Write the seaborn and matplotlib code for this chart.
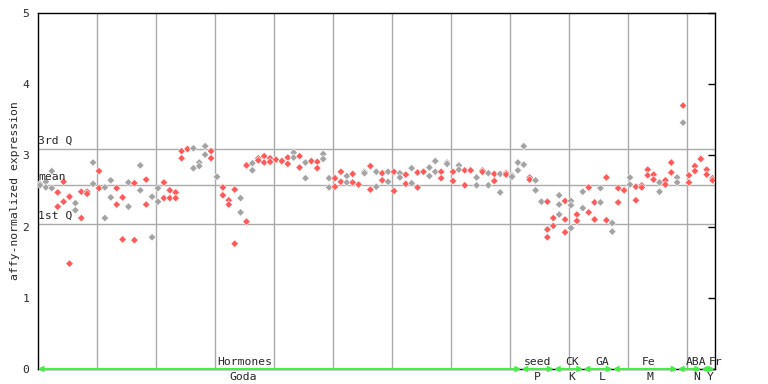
import numpy as np
import pandas as pd
import seaborn as sns
import matplotlib.pyplot as plt

# expression values per sample column (two replicates, a few columns have a third)
rep_a = [2.60, 2.63, 2.78, 2.48, 2.63, 2.42, 2.33, 2.49, 2.49, 2.90,
         2.78, 2.55, 2.65, 2.54, 2.41, 2.62, 2.61, 2.86, 2.66, 2.42,
         2.54, 2.62, 2.51, 2.48, 3.06, 3.09, 3.10, 2.90, 3.13, 3.06,
         2.70, 2.55, 2.37, 2.52, 2.40, 2.86, 2.89, 2.96, 2.99, 2.96,
         2.94, 2.92, 2.97, 3.04, 2.99, 2.90, 2.92, 2.91, 3.02, 2.68,
         2.68, 2.77, 2.71, 2.74, 2.59, 2.77, 2.85, 2.77, 2.75, 2.77,
         2.77, 2.75, 2.73, 2.82, 2.76, 2.77, 2.83, 2.92, 2.77, 2.90,
         2.77, 2.86, 2.79, 2.79, 2.69, 2.79, 2.75, 2.74, 2.74, 2.75,
         2.72, 2.90, 3.13, 2.69, 2.65, 2.35, 2.35, 2.12, 2.44, 2.36,
         2.36, 2.17, 2.49, 2.55, 2.34, 2.54, 2.69, 2.05, 2.54, 2.51,
         2.69, 2.56, 2.58, 2.80, 2.73, 2.62, 2.65, 2.90, 2.69, 3.70,
         2.72, 2.85, 2.95, 2.80, 2.68]
rep_b = [2.58, 2.55, 2.54, 2.28, 2.35, 1.48, 2.23, 2.12, 2.46, 2.60,
         2.54, 2.12, 2.41, 2.31, 1.82, 2.28, 1.81, 2.51, 2.31, 1.85,
         2.35, 2.40, 2.40, 2.40, 2.96, 3.09, 2.82, 2.85, 3.01, 2.96,
         2.70, 2.44, 2.31, 1.76, 2.20, 2.07, 2.79, 2.93, 2.90, 2.91,
         2.94, 2.92, 2.88, 2.97, 2.83, 2.68, 2.92, 2.82, 2.95, 2.55,
         2.56, 2.63, 2.62, 2.62, 2.59, 2.75, 2.52, 2.56, 2.65, 2.63,
         2.50, 2.69, 2.60, 2.61, 2.55, 2.77, 2.71, 2.77, 2.68, 2.88,
         2.64, 2.80, 2.58, 2.79, 2.58, 2.77, 2.58, 2.64, 2.48, 2.73,
         2.70, 2.79, 2.87, 2.66, 2.51, 2.35, 1.96, 2.01, 2.31, 2.10,
         2.30, 2.08, 2.26, 2.20, 2.10, 2.34, 2.09, 1.93, 2.34, 2.51,
         2.59, 2.37, 2.55, 2.72, 2.66, 2.49, 2.59, 2.76, 2.62, 3.46,
         2.62, 2.78, 2.95, 2.73, 2.65]
rep_c = {86: 1.85, 88: 2.17, 89: 1.92, 90: 1.98}

# columns drawn in grey (the rest are red)
grey_cols = [0, 1, 2, 6, 9, 11, 12, 15, 17, 19, 20, 26, 27, 28, 30, 34, 36,
             43, 45, 48, 49, 52, 55, 57, 59, 61, 63, 66, 67, 69, 71, 74, 76,
             78, 80, 81, 82, 84, 85, 88, 90, 92, 95, 97, 100, 105, 108]
grey_b_extra = [109]

q1, q_mean, q3 = 2.04, 2.585, 3.09

# experiment groups along the bottom
grp_top = ['Hormones', 'seed', 'CK', 'GA', 'Fe', 'ABA', 'Fr']
grp_bottom = ['Goda', 'P', 'K', 'L', 'M', 'N', 'Y']
grp_start = [0, 82, 87.5, 92.5, 97.5, 108.5, 112.5]
grp_end = [82, 87.5, 92.5, 97.5, 108.5, 112.5, 114.8]
grp_top_x = [35.1, 84.7, 90.6, 95.7, 103.5, 111.6, 115.0]
grp_bot_x = [34.8, 84.7, 90.6, 95.7, 103.8, 111.8, 114.0]

n = len(rep_a)
rows = []
for i in range(n):
    x = i + 0.42
    rows.append((x, rep_a[i], 'grey' if i in grey_cols else 'red'))
    rows.append((x, rep_b[i], 'grey' if (i in grey_cols or i in grey_b_extra) else 'red'))
    if i in rep_c:
        rows.append((x, rep_c[i], 'grey' if i in grey_cols else 'red'))
df = pd.DataFrame(rows, columns=['sample', 'expression', 'colour'])

sns.set_style('white')
plt.rcParams['font.family'] = ['DejaVu Sans Mono']
fs = 8.2

fig = plt.figure(figsize=(7.68, 3.84), dpi=100)
ax = fig.add_axes([37.5 / 768, 15 / 384, 677.5 / 768, 356 / 384])

for x in range(10, 115, 10):
    ax.axvline(x, color='#aaaaaa', lw=1, zorder=1)
for y in (q1, q_mean, q3):
    ax.axhline(y, color='#aaaaaa', lw=1, zorder=1)

sns.scatterplot(data=df, x='sample', y='expression', hue='colour',
                palette={'red': '#ff5a5a', 'grey': '#a3a3a3'},
                marker='D', s=15, linewidth=0.4, edgecolor='white',
                legend=False, ax=ax, zorder=3)

ax.set_xlim(0, 114.83)
ax.set_ylim(0, 5)
ax.set_yticks([0, 1, 2, 3, 4, 5])
ax.set_xticks([])
ax.set_xlabel('')
ax.set_ylabel('affy-normalized expression', fontsize=fs, labelpad=2)
ax.tick_params(axis='y', direction='in', length=5, width=1, right=True,
               labelsize=fs, pad=6, color='black')
for sp in ax.spines.values():
    sp.set_color('black')
    sp.set_linewidth(1)

for y, lab in ((q3, '3rd Q'), (q_mean, 'mean'), (q1, '1st Q')):
    ax.text(0.1, y + 0.04, lab, fontsize=fs, va='bottom', ha='left', zorder=4)

green = '#44ee44'
for s, e in zip(grp_start, grp_end):
    ax.annotate('', xy=(s, 0), xytext=(e, 0),
                arrowprops=dict(arrowstyle='<->', color=green, lw=1.5,
                                shrinkA=0, shrinkB=0, mutation_scale=7),
                annotation_clip=False, zorder=5)
for top, tx in zip(grp_top, grp_top_x):
    ax.annotate(top, xy=(tx, 0), xytext=(0, 1.5), textcoords='offset points',
                ha='center', va='bottom', fontsize=fs, annotation_clip=False)
for bot, bx in zip(grp_bottom, grp_bot_x):
    ax.annotate(bot, xy=(bx, 0), xytext=(0, -2.5), textcoords='offset points',
                ha='center', va='top', fontsize=fs, annotation_clip=False)

fig.savefig('out.png', dpi=100)
